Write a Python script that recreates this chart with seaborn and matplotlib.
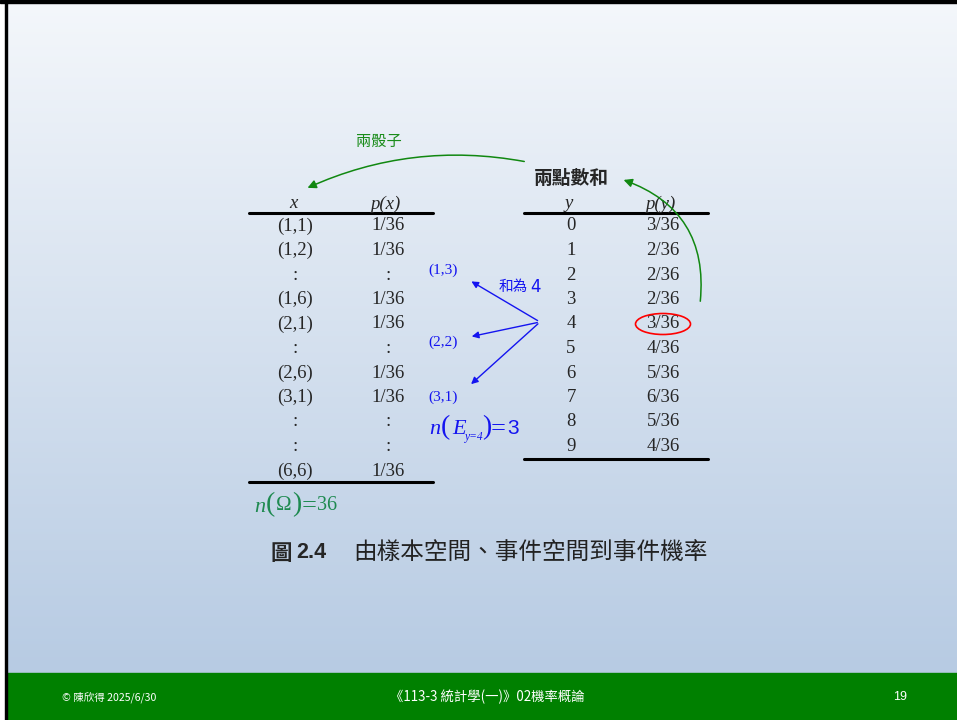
import numpy as np
import pandas as pd
import matplotlib
matplotlib.use("Agg")
import matplotlib.pyplot as plt
import seaborn as sns
from matplotlib.patches import FancyArrowPatch, Ellipse, Rectangle

# ---------------- data ----------------
x_outcomes = ["(1,1)", "(1,2)", ":", "(1,6)", "(2,1)", ":", "(2,6)", "(3,1)", ":", ":", "(6,6)"]
px_values = ["1/36", "1/36", ":", "1/36", "1/36", ":", "1/36", "1/36", ":", ":", "1/36"]
y_values = ["0", "1", "2", "3", "4", "5", "6", "7", "8", "9"]
py_values = ["3/36", "2/36", "2/36", "2/36", "3/36", "4/36", "5/36", "6/36", "5/36", "4/36"]
event_outcomes = ["(1,3)", "(2,2)", "(3,1)"]
highlight_y = "4"
caption_text = "由樣本空間、事件空間到事件機率"
footer_left = "© 陳欣得 2025/6/30"
footer_mid = "《113-3 統計學(一)》02機率概論"
footer_right = "19"

sns.set_theme(style="white")
plt.rcParams["mathtext.fontset"] = "stix"
CJK = ["Noto Sans CJK TC", "DejaVu Sans"]
SERIF = ["Liberation Serif", "DejaVu Serif"]

W, H = 957, 720
fig = plt.figure(figsize=(W / 100, H / 100), dpi=100)
ax = fig.add_axes([0, 0, 1, 1])
ax.set_xlim(0, W)
ax.set_ylim(H, 0)
ax.axis("off")

# background gradient
top = np.array([244, 247, 251]) / 255
bot = np.array([183, 203, 227]) / 255
t = np.linspace(0, 1, 256)[:, None]
grad = (top[None, :] * (1 - t) + bot[None, :] * t)[:, None, :]
ax.imshow(grad, extent=[0, W, 673, 0], aspect="auto", zorder=0)
ax.add_patch(Rectangle((0, 673), W, H - 673, color="#008000", zorder=1))
ax.add_patch(Rectangle((0, 0), 5, H, color="white", zorder=1))
ax.add_patch(Rectangle((5, 0), 2.2, H, color="black", zorder=2))
ax.add_patch(Rectangle((0, 0), W, 3, color="black", zorder=2))

FS = 13.5
# ---------------- left table ----------------
row0, dy = 226, 24.5
lx_col, lp_col = 295, 388
ax.text(lx_col - 2, 204, "x", fontsize=FS, family=SERIF, style="italic", ha="center", va="center")
ax.text(lp_col - 3, 204, "p(x)", fontsize=FS, family=SERIF, style="italic", ha="center", va="center")
for i, (a, b) in enumerate(zip(x_outcomes, px_values)):
    yy = row0 + i * dy
    ax.text(lx_col, yy, a, fontsize=FS, family=SERIF, ha="center", va="center")
    ax.text(lp_col, yy, b, fontsize=FS, family=SERIF, ha="center", va="center")

# ---------------- right table ----------------
rx_col, rp_col = 571, 663
ax.text(rx_col - 2, 204, "y", fontsize=FS, family=SERIF, style="italic", ha="center", va="center")
ax.text(rp_col - 3, 204, "p(y)", fontsize=FS, family=SERIF, style="italic", ha="center", va="center")
for i, (a, b) in enumerate(zip(y_values, py_values)):
    yy = row0 + i * dy
    ax.text(rx_col, yy, a, fontsize=FS, family=SERIF, ha="center", va="center")
    ax.text(rp_col, yy, b, fontsize=FS, family=SERIF, ha="center", va="center")

# rules drawn with seaborn
left_bottom = row0 + (len(x_outcomes) - 1) * dy + 11
right_bottom = row0 + (len(y_values) - 1) * dy + 12
rules = pd.DataFrame({
    "x": [249, 433, 249, 433, 524, 708, 524, 708],
    "y": [213, 213, left_bottom, left_bottom, 213, 213, right_bottom, right_bottom],
    "rule": ["a", "a", "b", "b", "c", "c", "d", "d"],
})
sns.lineplot(data=rules, x="x", y="y", units="rule", estimator=None, color="black",
             linewidth=2.2, ax=ax, legend=False, sort=False)
ax.set_xlim(0, W)
ax.set_ylim(H, 0)
ax.axis("off")

# highlight ellipse
hi = y_values.index(highlight_y)
ax.add_patch(Ellipse((rp_col, row0 + hi * dy), 55, 21, fill=False, edgecolor="red", lw=1.2, zorder=5))

# titles and green arrows
ax.text(571, 179, "兩點數和", fontsize=13.5, family=CJK, weight="bold", ha="center", va="center")
ax.text(379, 141, "兩骰子", fontsize=11, family=CJK, color="#1a8c1a", ha="center", va="center")
ax.add_patch(FancyArrowPatch((527, 162), (305, 189), connectionstyle="arc3,rad=0.16",
                             arrowstyle="-|>,head_length=5,head_width=2.5", color="#118811", lw=1.1, zorder=4))
ax.add_patch(FancyArrowPatch((700, 304), (621, 179), connectionstyle="arc3,rad=0.4",
                             arrowstyle="-|>,head_length=5,head_width=2.5", color="#118811", lw=1.1, zorder=4))

# blue arrows from y=4 to its outcomes
BLUE = "#1414f0"
src = (540, 322)
targets = [(469, 280), (469, 337), (469, 386)]
label_pos = [(443, 270), (443, 342), (443, 397)]
for (tx, ty), (lx, ly), lab in zip(targets, label_pos, event_outcomes):
    ax.add_patch(FancyArrowPatch(src, (tx, ty), arrowstyle="-|>,head_length=4,head_width=2",
                                 color=BLUE, lw=1.0, zorder=4))
    ax.text(lx, ly, lab, fontsize=11, family=SERIF, color=BLUE, ha="center", va="center")
ax.text(513, 287, "和為", fontsize=10.5, family=CJK, color=BLUE, ha="center", va="center")
ax.text(530, 287, "4", fontsize=12, family=["DejaVu Sans"], color=BLUE, ha="left", va="center")

# n(E_{y=4}) = 3, pieces with tall parentheses
PAREN = 20
ax.text(429, 430, "n", fontsize=16, family=SERIF, style="italic", color=BLUE, ha="left", va="center")
ax.text(441, 428, "(", fontsize=PAREN, family=SERIF, color=BLUE, ha="left", va="center")
ax.text(452, 429, "E", fontsize=16, family=SERIF, style="italic", color=BLUE, ha="left", va="center")
ax.text(465, 437, "y=4", fontsize=8.3, family=SERIF, style="italic", color=BLUE, ha="left", va="center")
ax.text(482, 428, ")", fontsize=PAREN, family=SERIF, color=BLUE, ha="left", va="center")
ax.text(491, 429, "=", fontsize=19, family=SERIF, color=BLUE, ha="left", va="center")
ax.text(507, 429, "3", fontsize=15, family=["Liberation Sans"], color=BLUE, ha="left", va="center")

# n(Omega) = 36
GREEN2 = "#1e8a50"
ax.text(254, 507, "n", fontsize=16, family=SERIF, style="italic", color=GREEN2, ha="left", va="center")
ax.text(266, 505, "(", fontsize=PAREN, family=SERIF, color=GREEN2, ha="left", va="center")
ax.text(276, 506, "Ω", fontsize=15, family=SERIF, color=GREEN2, ha="left", va="center")
ax.text(292, 505, ")", fontsize=PAREN, family=SERIF, color=GREEN2, ha="left", va="center")
ax.text(302, 506, "=", fontsize=19, family=SERIF, color=GREEN2, ha="left", va="center")
ax.text(317, 506, "36", fontsize=14.5, family=SERIF, color=GREEN2, ha="left", va="center")

# caption
ax.text(270, 553, "圖", fontsize=15.5, family=CJK, weight="bold", ha="left", va="center")
ax.text(296, 553, "2.4", fontsize=15.5, family=["Liberation Sans"], weight="bold", ha="left", va="center")
ax.text(353, 553, caption_text, fontsize=17, family=CJK, weight="light", color="#222222", ha="left", va="center")

# footer
ax.text(62, 697, footer_left, fontsize=7.6, family=CJK, color="white", ha="left", va="center")
ax.text(487, 697, footer_mid, fontsize=9.6, family=CJK, color="white", ha="center", va="center")
ax.text(900, 697, footer_right, fontsize=9, family=["Liberation Sans"], color="white", ha="center", va="center")

fig.savefig("out.png", dpi=100)
